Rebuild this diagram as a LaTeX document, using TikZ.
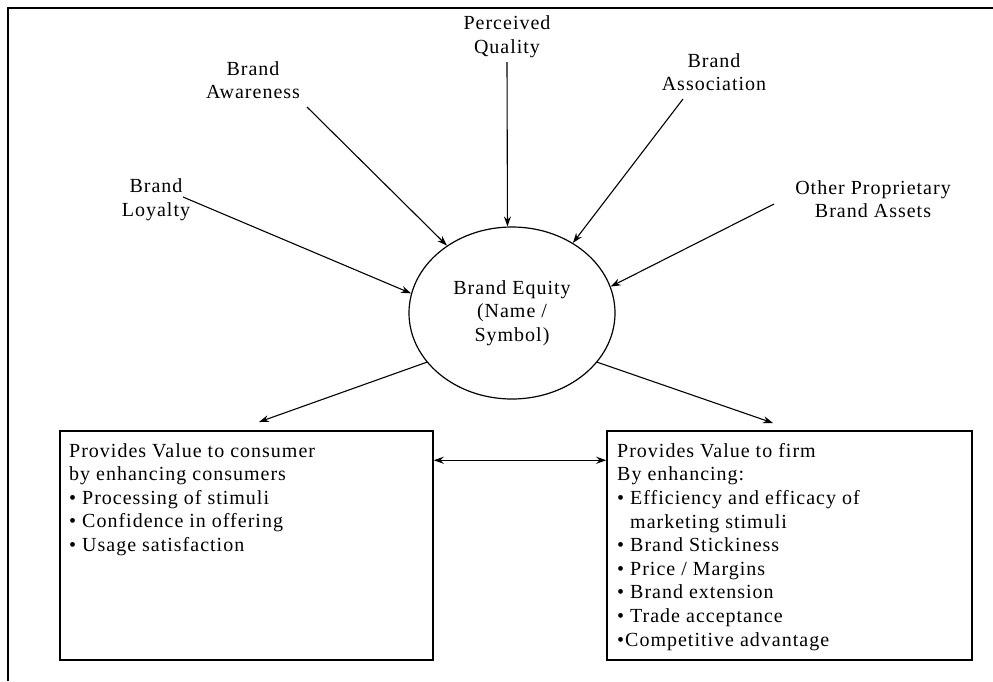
\documentclass[tikz,border=0pt]{standalone}
\usepackage{fontspec}
\setmainfont{Liberation Serif}[LetterSpace=5.0]
\usetikzlibrary{arrows.meta,shapes.geometric}
\begin{document}
\begin{tikzpicture}[x=1pt,y=-1pt,
  lbl/.style={align=center,inner sep=0pt,font=\fontsize{20}{23.6}\selectfont},
  boxtext/.style={align=left,inner sep=0pt,anchor=north west,font=\fontsize{20}{23.6}\selectfont},
  valbox/.style={draw,line width=1.5pt,minimum width=373pt,minimum height=229pt,inner sep=0pt},
  arr/.style={line width=1.1pt,-{Stealth[length=10pt,width=7pt]}}]
\useasboundingbox (0,0) rectangle (993,681);
\draw[line width=2pt] (8,681) -- (8,8) -- (993,8);
% labels
\node[lbl] (lo) at (156,200) {Brand\\Loyalty};
\node[lbl] (aw) at (253,80) {Brand\\Awareness};
\node[lbl] (pq) at (507,37) {Perceived\\Quality};
\node[lbl] (as) at (714,72) {Brand\\Association};
\node[lbl] (ot) at (873,199) {Other Proprietary\\Brand Assets};
% ellipse
\node[ellipse,draw,line width=1.2pt,minimum width=206pt,minimum height=172pt,inner sep=0pt,lbl] (eq) at (512,313) {Brand Equity\\(Name /\\Symbol)};
% boxes
\node[valbox] (b1) at (246.5,545.5) {};
\node[valbox,minimum width=365pt] (b2) at (789.5,545.5) {};
\node[boxtext] (t1) at (69,443) {Provides Value to consumer\\by enhancing consumers\\\textbullet{} Processing of stimuli\\\textbullet{} Confidence in offering\\\textbullet{} Usage satisfaction};
\node[boxtext] (t2) at (617,443) {Provides Value to firm\\By enhancing:\\\textbullet{} Efficiency and efficacy of\\\phantom{\textbullet{} }marketing stimuli\\\textbullet{} Brand Stickiness\\\textbullet{} Price / Margins\\\textbullet{} Brand extension\\\textbullet{} Trade acceptance\\\textbullet{}Competitive advantage};
% arrow start points
\coordinate (slo) at (183,197);
\coordinate (saw) at (307,107);
\coordinate (spq) at (507,62);
\coordinate (sas) at (683,99);
\coordinate (sot) at (774,204);
\coordinate (el) at (259,422);
\coordinate (er) at (773,423);
\draw[arr] (slo) -- (eq.169);
\draw[arr] (saw) -- (eq.134);
\draw[arr] (spq) -- (eq.93);
\draw[arr] (sas) -- (eq.49);
\draw[arr] (sot) -- (eq.15);
\draw[arr] (eq.210) -- (el);
\draw[arr] (eq.330) -- (er);
\draw[line width=1.1pt,{Stealth[length=10pt,width=7pt]}-{Stealth[length=10pt,width=7pt]}] ([yshift=-30pt]b1.north east) -- ([yshift=-30pt]b2.north west);
\end{tikzpicture}
\end{document}
